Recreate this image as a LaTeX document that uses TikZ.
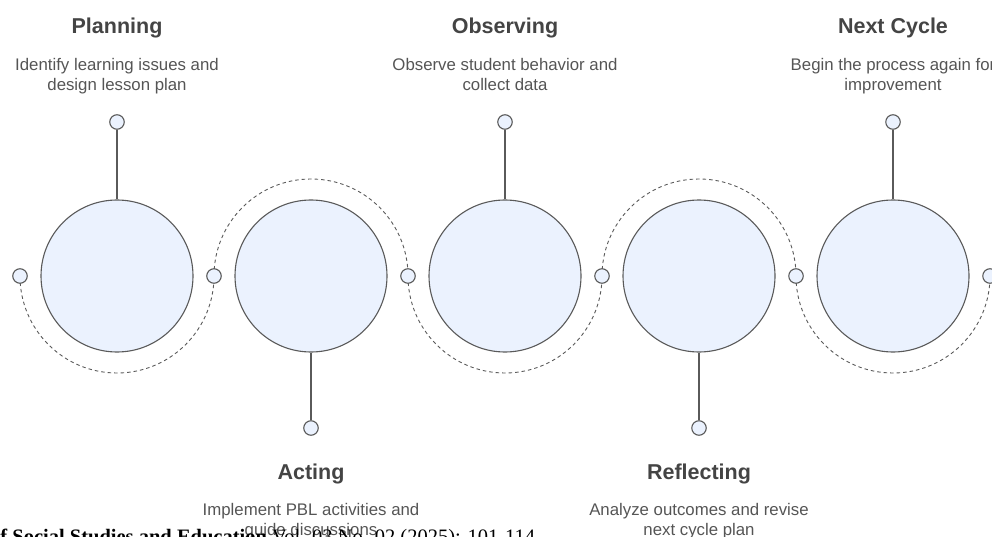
\documentclass[tikz,border=0pt]{standalone}
\usepackage{fontspec}
\setmainfont{Liberation Sans}
\newfontfamily\footfont{Liberation Serif}
\definecolor{linec}{HTML}{5A5A5A}
\definecolor{fillc}{HTML}{EBF2FE}
\definecolor{titlec}{HTML}{444444}
\definecolor{descc}{HTML}{555555}
\begin{document}
\begin{tikzpicture}[x=1pt,y=-1pt,
  bigc/.style={circle,draw=linec,fill=fillc,line width=1.1pt,minimum size=152pt,inner sep=0pt},
  dotc/.style={circle,draw=linec,fill=fillc,line width=1.1pt,minimum size=14.5pt,inner sep=0pt},
  arcd/.style={draw=linec,line width=0.9pt,dash pattern=on 3.5pt off 3pt},
  stem/.style={draw=linec,line width=1.2pt},
  ttl/.style={anchor=base,inner sep=0pt,text=titlec,font=\fontsize{21.5}{25}\selectfont\bfseries},
  dsc/.style={anchor=base,inner sep=0pt,text=descc,align=center,font=\fontsize{16.8}{20}\selectfont}]
\useasboundingbox (0,0) rectangle (992,537);
\clip (0,0) rectangle (992,537);
% side dot centres
\coordinate (p0) at (20,276);
\coordinate (p1) at (214,276);
\coordinate (p2) at (408,276);
\coordinate (p3) at (602,276);
\coordinate (p4) at (796,276);
\coordinate (p5) at (990,276);
% dashed arcs
\draw[arcd] (p0) arc[start angle=180,end angle=0,radius=97];
\draw[arcd] (p1) arc[start angle=180,end angle=360,radius=97];
\draw[arcd] (p2) arc[start angle=180,end angle=0,radius=97];
\draw[arcd] (p3) arc[start angle=180,end angle=360,radius=97];
\draw[arcd] (p4) arc[start angle=180,end angle=0,radius=97];
% main circles
\node[bigc] (c1) at (117,276) {};
\node[bigc] (c2) at (311,276) {};
\node[bigc] (c3) at (505,276) {};
\node[bigc] (c4) at (699,276) {};
\node[bigc] (c5) at (893,276) {};
% side dots
\node[dotc] (s0) at (p0) {};
\node[dotc] (s1) at (p1) {};
\node[dotc] (s2) at (p2) {};
\node[dotc] (s3) at (p3) {};
\node[dotc] (s4) at (p4) {};
\node[dotc] (s5) at (p5) {};
% stem dots
\node[dotc] (t1) at (117,122) {};
\node[dotc] (t2) at (311,428) {};
\node[dotc] (t3) at (505,122) {};
\node[dotc] (t4) at (699,428) {};
\node[dotc] (t5) at (893,122) {};
\draw[stem] (c1) -- (t1);
\draw[stem] (c2) -- (t2);
\draw[stem] (c3) -- (t3);
\draw[stem] (c4) -- (t4);
\draw[stem] (c5) -- (t5);
% titles
\node[ttl] (h1) at (117,34) {Planning};
\node[ttl] (h3) at (505,34) {Observing};
\node[ttl] (h5) at (893,34) {Next Cycle};
\node[ttl] (h2) at (311,479) {Acting};
\node[ttl] (h4) at (699,479) {Reflecting};
% descriptions (base anchor = last line)
\node[dsc] (d1) at (117,91) {Identify learning issues and\\design lesson plan};
\node[dsc] (d3) at (505,91) {Observe student behavior and\\collect data};
\node[dsc] (d5) at (893,91) {Begin the process again for\\improvement};
\node[dsc] (d2) at (311,535) {Implement PBL activities and\\guide discussions};
\node[dsc] (d4) at (699,535) {Analyze outcomes and revise\\next cycle plan};
% footer
\node[anchor=base west,inner sep=0pt,font=\footfont\fontsize{20.5}{22}\selectfont] (ft) at (-10,543)
  {\textbf{of Social Studies and Education} Vol. 03 No. 02 (2025): 101-114};
\end{tikzpicture}
\end{document}
